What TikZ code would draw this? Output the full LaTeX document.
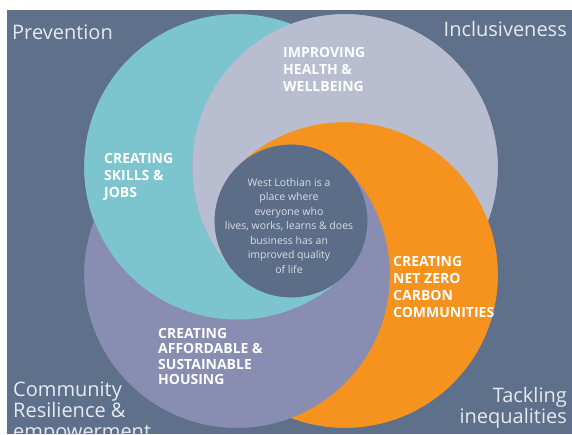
\documentclass[tikz,border=0pt]{standalone}
\usepackage{fontspec}
\setmainfont{Open Sans}
\usepackage{tikz}
\usetikzlibrary{calc}
\definecolor{slate}{RGB}{95,112,138}
\definecolor{core}{RGB}{92,109,135}
\definecolor{skills}{RGB}{125,197,206}
\definecolor{health}{RGB}{185,189,208}
\definecolor{netzero}{RGB}{246,147,30}
\definecolor{housing}{RGB}{137,141,177}
\definecolor{corner}{RGB}{230,234,240}
\newcommand{\ringR}{152.735}
\newcommand{\coreR}{76.37}
% one arm of the spiral: colour, own centre, angle where it touches the core
\newcommand{\arm}[3]{%
  \fill[#1] ($(#2)+(#3:\ringR)$)
    arc[start angle=#3, end angle=#3-245.705, radius=\ringR]
    arc[start angle=#3-204.295, end angle=#3-90, radius=\ringR]
    arc[start angle=#3-90, end angle=#3, radius=\coreR] -- cycle;}

\begin{document}
\begin{tikzpicture}[x=1pt, y=1pt,
  label/.style={inner sep=0pt, anchor=north west, align=left, text=white,
    font=\bfseries\fontsize{14}{17}\selectfont},
  cornertext/.style={inner sep=0pt, text=corner, font=\fontsize{20}{21}\selectfont}]
\useasboundingbox (0,0) rectangle (572,434);
\fill[white] (0,0) rectangle (572,434);
\fill[slate] (7,0) rectangle (572,424);

\coordinate (c) at (291,213);
\coordinate (tc) at (237,267);
\coordinate (gc) at (345,267);
\coordinate (oc) at (345,159);
\coordinate (pc) at (237,159);

\foreach \col/\ctr in {skills/tc, health/gc, netzero/oc, housing/pc}
  \fill[\col] (\ctr) circle[radius=\ringR];
\arm{skills}{tc}{315}
\arm{health}{gc}{225}
\arm{netzero}{oc}{135}
\arm{housing}{pc}{45}
\fill[core] (c) circle[radius=\coreR];

\node[label] (skillsl) at (104,281) {CREATING\\SKILLS \&\\JOBS};
\node[label] (healthl) at (283,387) {IMPROVING\\HEALTH \&\\WELLBEING};
\node[label] (netzerol) at (393,178) {CREATING\\NET ZERO\\CARBON\\COMMUNITIES};
\node[label, font=\bfseries\fontsize{14}{15.5}\selectfont] (housingl) at (158,106)
  {CREATING\\AFFORDABLE \&\\SUSTAINABLE\\HOUSING};
\node[inner sep=0pt, align=center, text=corner!90!slate,
  font=\fontsize{10.5}{14.5}\selectfont] (vision) at (289,208)
  {West Lothian is a\\place where\\everyone who\\lives, works, learns \& does\\business has an\\improved quality\\of life};

\node[cornertext, anchor=base west] (prevention) at (12,394) {Prevention};
\node[cornertext, anchor=base east] (inclusive) at (567,397) {Inclusiveness};
\node[cornertext, anchor=north west, align=left] (community) at (13,52)
  {Community\\Resilience \&\\empowerment};
\node[cornertext, anchor=north east, align=right] (tackling) at (567,47)
  {Tackling\\inequalities};
\end{tikzpicture}
\end{document}
